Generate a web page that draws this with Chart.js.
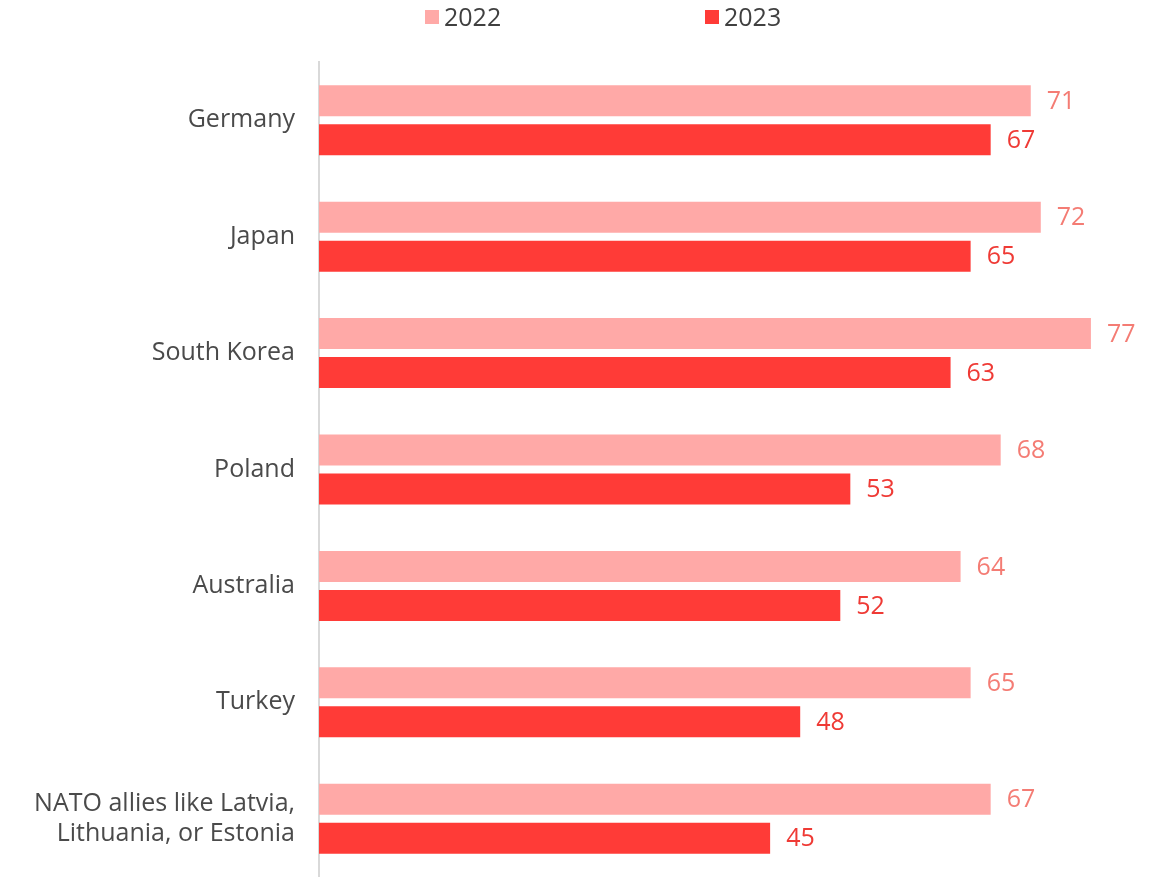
<!DOCTYPE html>
<html>
<head>
<meta charset="utf-8">
<script src="https://cdn.jsdelivr.net/npm/chart.js@4/dist/chart.umd.min.js"></script>
<style>
  html, body { margin: 0; padding: 0; background: #ffffff; }
  #wrap { position: relative; width: 1164px; height: 877px; }
  canvas { display: block; }
  #legend { position: absolute; left: 0; top: 0; width: 1164px; height: 40px; font-family: "Open Sans", sans-serif; font-size: 25px; color: #404040; }
  .sw { position: absolute; top: 10px; width: 14px; height: 14px; }
  .txt { position: absolute; top: -1px; line-height: normal; white-space: nowrap; }
</style>
</head>
<body>
<div id="wrap">
  <canvas id="c" width="1164" height="877"></canvas>
  <div id="legend"></div>
</div>
<script>
const categories = [
  "Germany",
  "Japan",
  "South Korea",
  "Poland",
  "Australia",
  "Turkey",
  ["NATO allies like Latvia,", "Lithuania, or Estonia"]
];
const seriesNames = ["2022", "2023"];
const values2022 = [71, 72, 77, 68, 64, 65, 67];
const values2023 = [67, 65, 63, 53, 52, 48, 45];
const barColors = ["#FFA9A7", "#FF3B37"];
const labelColors = ["#F47C74", "#EF3A35"];

// HTML legend
const legendEl = document.getElementById('legend');
const legendPos = [425, 705];
seriesNames.forEach((name, i) => {
  const sw = document.createElement('span');
  sw.className = 'sw';
  sw.style.left = legendPos[i] + 'px';
  sw.style.background = barColors[i];
  legendEl.appendChild(sw);
  const t = document.createElement('span');
  t.className = 'txt';
  t.style.left = (legendPos[i] + 19) + 'px';
  t.textContent = name;
  legendEl.appendChild(t);
});

const valueLabels = {
  id: 'valueLabels',
  afterDatasetsDraw(chart) {
    const ctx = chart.ctx;
    ctx.save();
    ctx.font = '25px "Open Sans", sans-serif';
    ctx.textAlign = 'left';
    ctx.textBaseline = 'middle';
    chart.data.datasets.forEach((ds, di) => {
      const meta = chart.getDatasetMeta(di);
      ctx.fillStyle = labelColors[di];
      meta.data.forEach((bar, i) => {
        ctx.fillText(String(ds.data[i]), bar.x + 16, bar.y + 1);
      });
    });
    ctx.restore();
  }
};

new Chart(document.getElementById('c'), {
  type: 'bar',
  data: {
    labels: categories,
    datasets: [
      { label: seriesNames[0], data: values2022, backgroundColor: barColors[0], categoryPercentage: 0.67, barPercentage: 0.795 },
      { label: seriesNames[1], data: values2023, backgroundColor: barColors[1], categoryPercentage: 0.67, barPercentage: 0.795 }
    ]
  },
  options: {
    indexAxis: 'y',
    responsive: false,
    animation: false,
    layout: { padding: { left: 0, top: 62, right: 43, bottom: 0 } },
    plugins: {
      legend: { display: false },
      tooltip: { enabled: false }
    },
    scales: {
      x: { display: false, min: 0, max: 80 },
      y: {
        grid: { display: false },
        border: { display: true, color: '#D9D9D9', width: 2 },
        ticks: {
          color: '#4A4A4A',
          font: { family: '"Open Sans", sans-serif', size: 25, lineHeight: 1.17 },
          padding: 16
        },
        afterFit(scale) {
          scale.width = 319;
          scale.paddingTop = 0;
          scale.paddingBottom = 0;
        }
      }
    }
  },
  plugins: [valueLabels]
});
</script>
</body>
</html>
